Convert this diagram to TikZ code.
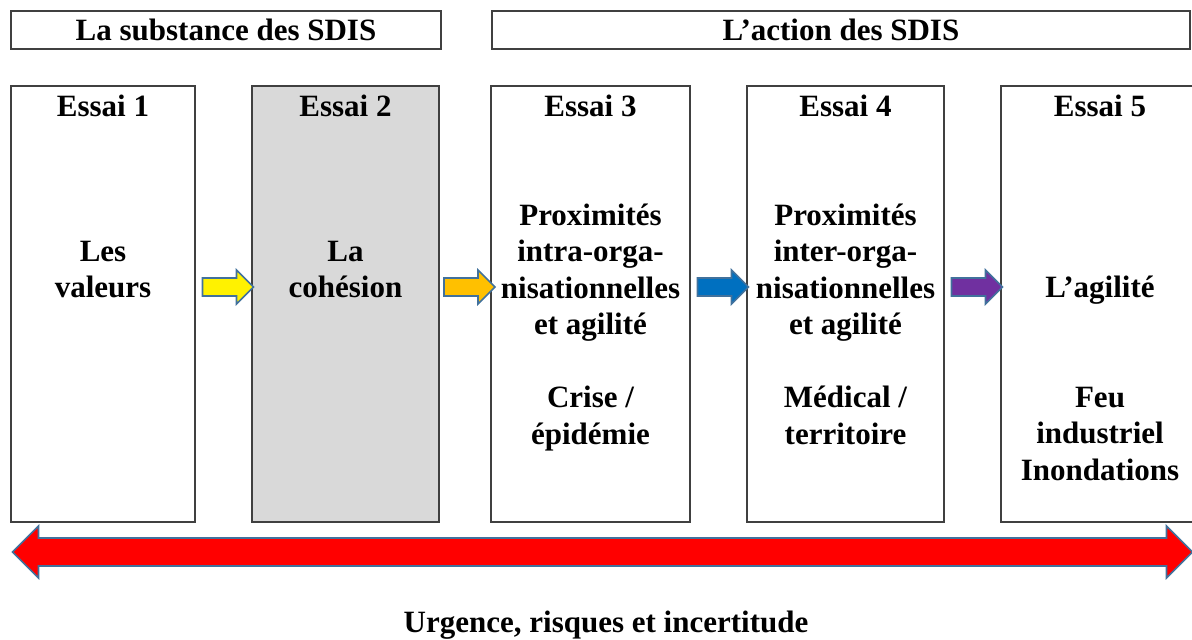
\documentclass[tikz,border=0pt]{standalone}
\usepackage{fontspec}
\setmainfont{Liberation Serif}
\usetikzlibrary{shapes.arrows,calc}
\definecolor{gris}{HTML}{D9D9D9}
\definecolor{bord}{HTML}{41719C}
\definecolor{orange}{HTML}{FFC000}
\definecolor{bleu}{HTML}{0070C0}
\definecolor{violet}{HTML}{7030A0}
\newcommand{\txt}{\fontsize{15.5}{18.25}\selectfont\bfseries}

\begin{document}
\begin{tikzpicture}[x=.5pt,y=-.5pt,
  cadre/.style={draw=black!75,line width=.6pt,minimum height=19pt,inner sep=0pt,font=\txt},
  essai/.style={draw=black!75,line width=.6pt,minimum width=#1,minimum height=218pt,inner sep=0pt},
  corps/.style={align=center,font=\txt,inner sep=0pt},
  fl/.style={single arrow,draw=bord,line width=.8pt,fill=#1,minimum height=25.5pt,
    inner xsep=0pt,inner ysep=4.1pt,single arrow head extend=4pt},
  dfl/.style={double arrow,draw=bord,line width=.8pt,fill=red,minimum height=590pt,
    inner xsep=0pt,inner ysep=6.6pt,double arrow head extend=6pt}]
\useasboundingbox (0,0) rectangle (1192,639);
%en-tetes
\node[cadre,minimum width=215pt] (h1) at (226,30) {La substance des SDIS};
\node[cadre,minimum width=349pt] (h2) at (841,30) {L'action des SDIS};
%les cinq essais
\node[essai=92pt] (e1) at (103,304) {};
\node[essai=93.5pt,fill=gris] (e2) at (345.5,304) {};
\node[essai=99.5pt] (e3) at (590.5,304) {};
\node[essai=98.5pt] (e4) at (845.5,304) {};
\node[essai=99pt] (e5) at (1100,304) {};
\foreach \i in {1,...,5}
  \node[corps] (s\i) at ($(e\i.north)+(0,20)$) {Essai \i};
\node[corps] (t1) at (e1 |- 0,269.5) {Les\\valeurs};
\node[corps] (t2) at (e2 |- 0,269.5) {La\\cohésion};
\node[corps] (t3) at (e3 |- 0,327.5) {Proximités\\intra-orga-\\nisationnelles\\et agilité\\[18.25pt]Crise /\\épidémie};
\node[corps] (t4) at (e4 |- 0,324) {Proximités\\inter-orga-\\nisationnelles\\et agilité\\[18.25pt]Médical /\\territoire};
\node[corps] (t5) at (e5 |- 0,378.5) {L'agilité\\[36.5pt]Feu\\industriel\\Inondations};
%fleches
\node[fl=yellow] (f12) at ($(e1.east)!.5!(e2.west)+(0,-17)$) {};
\node[fl=orange] (f23) at ($(e2.east)!.5!(e3.west)+(0,-17)$) {};
\node[fl=bleu] (f34) at ($(e3.east)!.5!(e4.west)+(0,-17)$) {};
\node[fl=violet] (f45) at ($(e4.east)!.5!(e5.west)+(0,-17)$) {};
%urgence
\node[dfl] (urg) at (602.5,552) {};
\node[font=\txt] (bas) at (606,625) {Urgence, risques et incertitude};
\end{tikzpicture}
\end{document}
